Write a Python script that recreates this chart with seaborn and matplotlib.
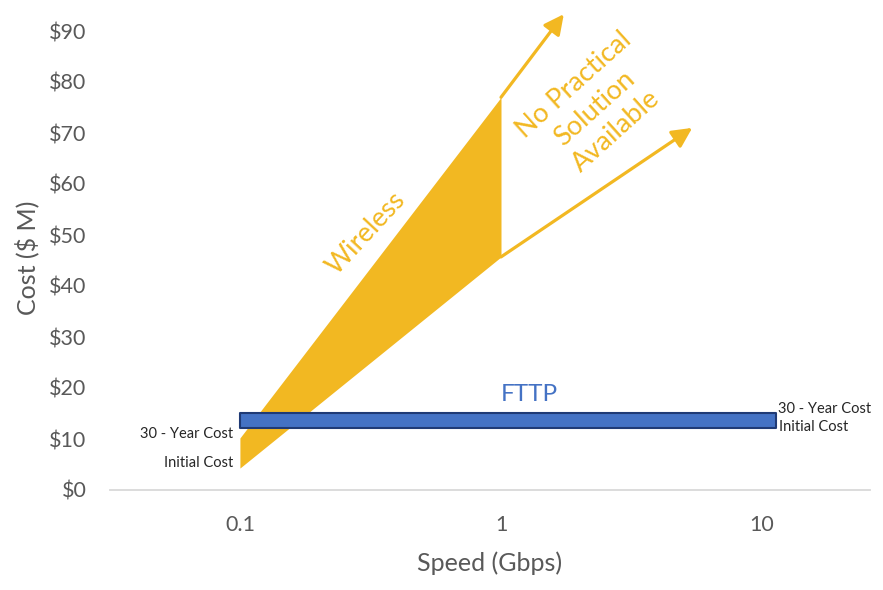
import numpy as np
import pandas as pd
import matplotlib
matplotlib.use("Agg")
import matplotlib.pyplot as plt
import seaborn as sns

# ---- data ----
wireless_speed = [0.1, 1.0]
wireless_initial = [4.3, 45.7]
wireless_30yr = [10.2, 77.0]
arrow_speed_end = [5.4, 1.74]      # initial-cost arrow, 30-year arrow
arrow_cost_end = [71.0, 93.3]
fttp_speed = [0.1, 11.3]
fttp_initial = 12.2
fttp_30yr = 15.1
y_ticks = [0, 10, 20, 30, 40, 50, 60, 70, 80, 90]
y_tick_labels = ["$" + str(v) for v in y_ticks]
x_ticks = [0.1, 1, 10]
x_tick_labels = ["0.1", "1", "10"]

sns.set_theme(style="white")
plt.rcParams['font.family'] = ['Lato', 'DejaVu Sans']

YELLOW = "#F2B822"
BLUE = "#4472C4"
DARKBLUE = "#1F3A75"
GREY = "#595959"

fig = plt.figure(figsize=(8.83, 5.90), dpi=100)
ax = fig.add_axes([110/883, 1 - 490/590, 760/883, (490 - 5.5)/590])

df = pd.DataFrame({"speed": wireless_speed, "initial": wireless_initial, "thirty": wireless_30yr})
ax.set_xscale("log")
ax.fill_between(df["speed"], df["initial"], df["thirty"], color=YELLOW, lw=0)
sns.lineplot(data=df, x="speed", y="initial", ax=ax, color=YELLOW, lw=0)

# arrows continuing from x=1
starts = [wireless_initial[1], wireless_30yr[1]]
for xs, ys, y0 in zip(arrow_speed_end, arrow_cost_end, starts):
    ax.annotate("", xy=(xs, ys), xytext=(wireless_speed[1], y0),
                arrowprops=dict(arrowstyle="-|>,head_length=1.0,head_width=0.5",
                                color=YELLOW, lw=2.3, shrinkA=0, shrinkB=0))

# FTTP bar
ax.fill_between(fttp_speed, [fttp_initial] * 2, [fttp_30yr] * 2,
                facecolor=BLUE, edgecolor=DARKBLUE, lw=1.5)

ax.set_xlim(0.0318, 25.9)
ax.set_ylim(0, 95)
ax.set_xticks(x_ticks)
ax.set_xticklabels(x_tick_labels)
ax.set_yticks(y_ticks)
ax.set_yticklabels(y_tick_labels)
ax.minorticks_off()
ax.tick_params(axis="both", length=0, colors=GREY)
ax.tick_params(axis="y", pad=17, labelsize=15.5)
ax.tick_params(axis="x", pad=18, labelsize=15.5)
for s in ["top", "right", "left"]:
    ax.spines[s].set_visible(False)
ax.spines["bottom"].set_color("#D9D9D9")
ax.spines["bottom"].set_linewidth(1.3)

ax.set_ylabel("")
ax.set_xlabel("Speed (Gbps)", fontsize=18, color=GREY, labelpad=12)
fig.text(27/883, 1 - 258/590, "Cost ($ M)", rotation=90, fontsize=18,
         color=GREY, ha="center", va="center")

# texts
ax.text(0.304, 50.3, "Wireless", rotation=47, fontsize=19.5, color=YELLOW,
        ha="center", va="center", rotation_mode="anchor")
ax.text(2.29, 74.9, "No Practical\nSolution\nAvailable", rotation=42, fontsize=19.5,
        color=YELLOW, ha="center", va="center", rotation_mode="anchor",
        linespacing=1.3)
ax.text(1.28, 18.7, "FTTP", fontsize=17.5, color=BLUE, ha="center", va="center")

small = dict(fontsize=10.5, color="#262626", va="center")
ax.text(0.094, 11.0, "30 - Year Cost", ha="right", **small)
ax.text(0.094, 5.3, "Initial Cost", ha="right", **small)
ax.text(11.5, 15.9, "30 - Year Cost", ha="left", **small)
ax.text(11.6, 12.3, "Initial Cost", ha="left", **small)

fig.savefig("out.png", dpi=100)
